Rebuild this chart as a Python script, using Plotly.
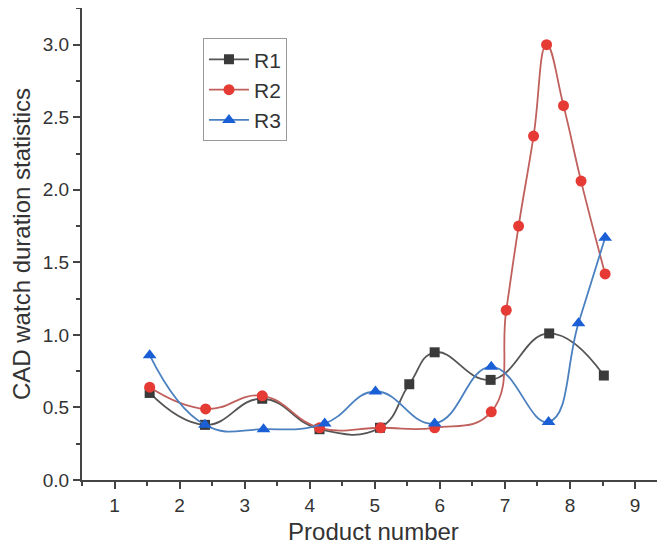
import plotly.graph_objects as go

# Data
r1_x = [1.54, 2.39, 3.27, 4.15, 5.08, 5.53, 5.92, 6.78, 7.68, 8.52]
r1_y = [0.60, 0.38, 0.56, 0.35, 0.36, 0.66, 0.88, 0.69, 1.01, 0.72]

r2_x = [1.54, 2.40, 3.27, 4.15, 5.09, 5.92, 6.79, 7.02, 7.21, 7.44, 7.64, 7.90, 8.17, 8.54]
r2_y = [0.64, 0.49, 0.58, 0.36, 0.36, 0.36, 0.47, 1.17, 1.75, 2.37, 3.00, 2.58, 2.06, 1.42]

r3_x = [1.54, 2.39, 3.29, 4.23, 5.01, 5.92, 6.79, 7.67, 8.13, 8.54]
r3_y = [0.86, 0.38, 0.35, 0.39, 0.61, 0.39, 0.78, 0.40, 1.08, 1.67]

x_ticks = [1, 2, 3, 4, 5, 6, 7, 8, 9]
y_ticks = [0.0, 0.5, 1.0, 1.5, 2.0, 2.5, 3.0]

FONT = "Liberation Sans, Arial, sans-serif"
TXT = "#333333"
AX = "#444444"

fig = go.Figure()
fig.add_trace(go.Scatter(
    x=r1_x, y=r1_y, name="R1", mode="lines+markers",
    line=dict(color="#555555", width=1.8, shape="spline", smoothing=1.3),
    marker=dict(symbol="square", size=10, color="#3a3a3a"),
))
fig.add_trace(go.Scatter(
    x=r2_x, y=r2_y, name="R2", mode="lines+markers",
    line=dict(color="#c0605c", width=1.8, shape="spline", smoothing=1.3),
    marker=dict(symbol="circle", size=11, color="#e63a35"),
))
fig.add_trace(go.Scatter(
    x=r3_x, y=r3_y, name="R3", mode="lines+markers",
    line=dict(color="#4a80c0", width=1.8, shape="spline", smoothing=1.3),
    marker=dict(symbol="triangle-up", size=12, color="#1a5fd6"),
))

fig.update_layout(
    width=657, height=546,
    margin=dict(l=74, r=0, t=0, b=74),
    paper_bgcolor="white", plot_bgcolor="white",
    font=dict(family=FONT, color=TXT, size=19),
    showlegend=True,
    legend=dict(
        x=0.2075, y=0.936, xanchor="left", yanchor="top",
        bordercolor="#999999", borderwidth=1, bgcolor="white",
        font=dict(size=21, family=FONT, color=TXT),
        tracegroupgap=0, itemwidth=40,
    ),
    xaxis=dict(
        range=[0.5, 9.46],
        tickmode="array", tickvals=x_ticks, ticktext=[str(v) for v in x_ticks],
        ticks="outside", ticklen=7, tickwidth=1.5, tickcolor=AX,
        minor=dict(dtick=0.5, tick0=0.5, ticks="outside", ticklen=4, tickwidth=1.5, tickcolor=AX),
        showline=True, linecolor=AX, linewidth=2,
        showgrid=False, zeroline=False,
        tickfont=dict(size=19, family=FONT, color=TXT),
        title=dict(text="Product number", font=dict(size=24, family=FONT, color=TXT), standoff=8),
    ),
    yaxis=dict(
        range=[0, 3.253],
        tickmode="array", tickvals=y_ticks, ticktext=[f"{v:.1f}" for v in y_ticks],
        ticks="outside", ticklen=7, tickwidth=1.5, tickcolor=AX,
        minor=dict(dtick=0.25, tick0=0, ticks="outside", ticklen=4, tickwidth=1.5, tickcolor=AX),
        showline=True, linecolor=AX, linewidth=2,
        showgrid=False, zeroline=False,
        tickfont=dict(size=19, family=FONT, color=TXT),
        title=dict(text="CAD watch duration statistics", font=dict(size=24, family=FONT, color=TXT), standoff=8),
    ),
)

fig.write_html("out.html")
